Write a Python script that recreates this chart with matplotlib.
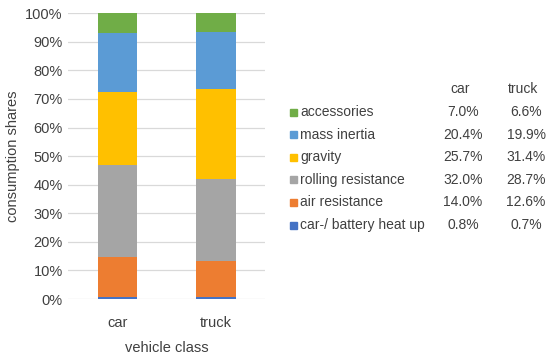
import numpy as np
import matplotlib
matplotlib.use("Agg")
import matplotlib.pyplot as plt
from matplotlib.patches import Rectangle

plt.rcParams['font.family'] = ['Liberation Sans', 'DejaVu Sans']

# data (bottom to top of the stack)
classes = ['car', 'truck']
components = ['car-/ battery heat up', 'air resistance', 'rolling resistance',
              'gravity', 'mass inertia', 'accessories']
car_shares = [0.8, 14.0, 32.0, 25.7, 20.4, 7.0]
truck_shares = [0.7, 12.6, 28.7, 31.4, 19.9, 6.6]
colors = ['#4472C4', '#ED7D31', '#A5A5A5', '#FFC000', '#5B9BD5', '#70AD47']

txt = '#404040'
fig = plt.figure(figsize=(5.5, 3.56), dpi=100)
ax = fig.add_axes([0.124, 0.160, 0.358, 0.803])

x = np.arange(len(classes))
bottom = np.zeros(len(classes))
for i, name in enumerate(components):
    vals = np.array([car_shares[i], truck_shares[i]]) / 100
    ax.bar(x, vals, width=0.4, bottom=bottom, color=colors[i], zorder=3)
    bottom += vals

ax.set_xlim(-0.5, 1.5)
ax.set_ylim(0, 1.0)
ax.set_yticks(np.arange(0, 1.01, 0.1))
ax.set_yticklabels(['%d%%' % v for v in range(0, 101, 10)])
ax.set_xticks(x)
ax.set_xticklabels(classes)
ax.grid(axis='y', color='#D9D9D9', lw=0.9, zorder=0)
for s in ax.spines.values():
    s.set_visible(False)
ax.tick_params(length=0, labelsize=10.5, colors=txt, pad=4)
ax.tick_params(axis='x', pad=12)
ax.set_ylabel('consumption shares', fontsize=10.5, color=txt, labelpad=4)
ax.set_xlabel('vehicle class', fontsize=10.5, color=txt, labelpad=8)

# legend table on the right
W, H = 550, 356
row0, dy = 112, 22.6
fig.text(460 / W, 1 - 89 / H, 'car', ha='center', va='center', fontsize=10, color=txt)
fig.text(523 / W, 1 - 89 / H, 'truck', ha='center', va='center', fontsize=10, color=txt)
for j, i in enumerate(range(len(components) - 1, -1, -1)):
    yc = 1 - (row0 + j * dy) / H
    fig.patches.append(Rectangle((290 / W, yc - 3.5 / H), 7 / W, 7 / H,
                                 transform=fig.transFigure, color=colors[i]))
    fig.text(300 / W, yc, components[i], ha='left', va='center', fontsize=10, color=txt)
    fig.text(463 / W, yc, '%.1f%%' % car_shares[i], ha='center', va='center', fontsize=10, color=txt)
    fig.text(526 / W, yc, '%.1f%%' % truck_shares[i], ha='center', va='center', fontsize=10, color=txt)

fig.savefig('out.png', dpi=100)
